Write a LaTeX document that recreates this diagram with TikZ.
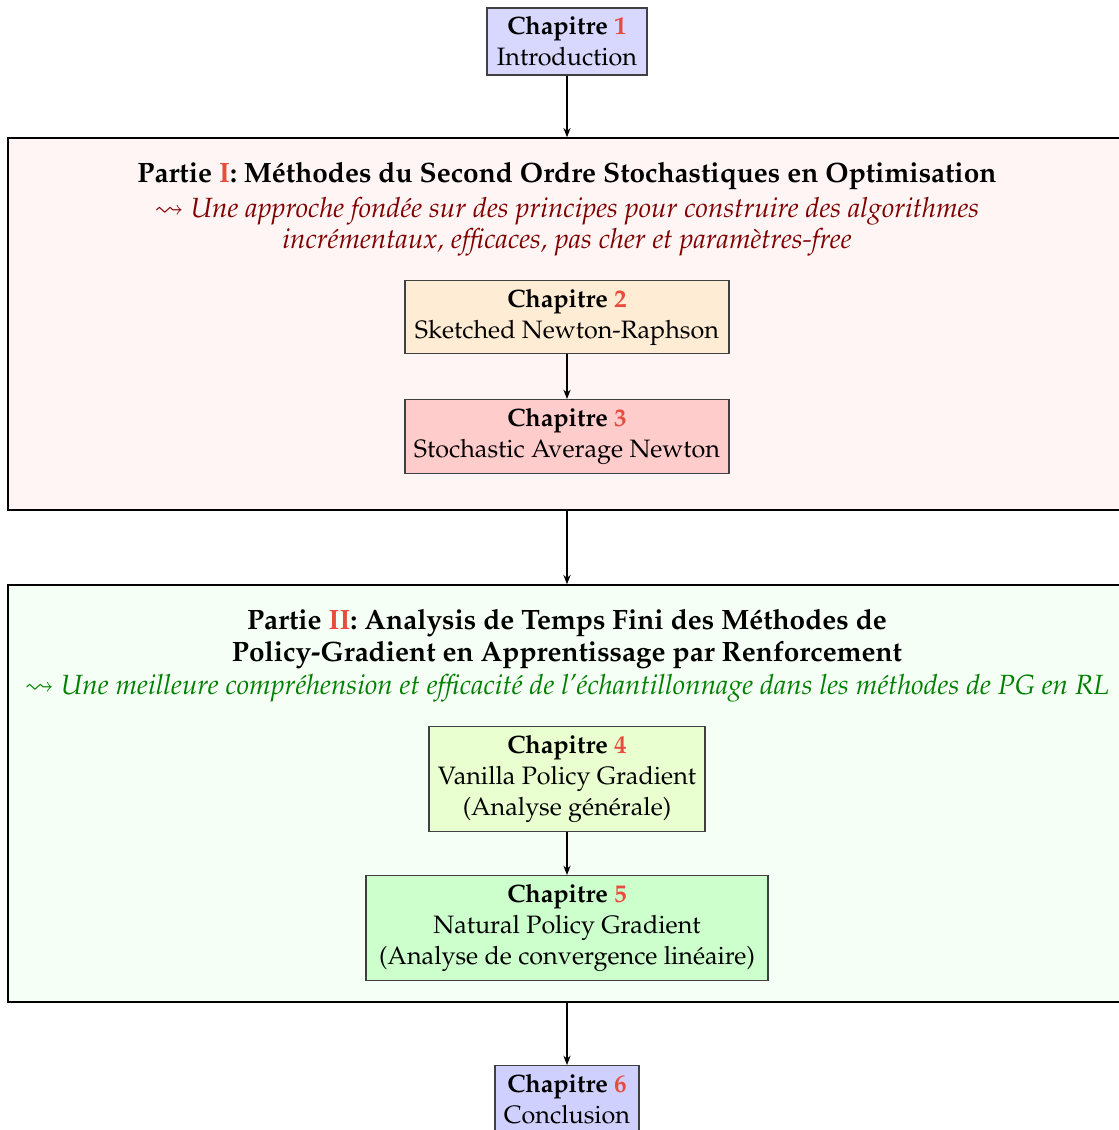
\documentclass[tikz,border=0pt]{standalone}
\usepackage[T1]{fontenc}
\usepackage{mathpazo}
\usepackage{amssymb}
\usetikzlibrary{arrows.meta}
\definecolor{chnum}{RGB}{231,76,60}
\definecolor{pafill}{RGB}{255,245,245}
\definecolor{pbfill}{RGB}{246,255,246}
\definecolor{patext}{RGB}{128,0,0}
\definecolor{pbtext}{RGB}{0,128,0}
\definecolor{cafill}{RGB}{216,216,255}
\definecolor{cbfill}{RGB}{255,236,212}
\definecolor{ccfill}{RGB}{255,204,204}
\definecolor{cdfill}{RGB}{234,255,208}
\definecolor{cefill}{RGB}{204,255,204}
\definecolor{cffill}{RGB}{208,208,255}
\newcommand\pxu{0.3876pt}
\newcommand\chap[2]{{\bfseries Chapitre \textcolor{chnum}{#1}}\\#2}
\begin{document}
\begin{tikzpicture}[x=0.3876pt,y=-0.3876pt,
  chapbox/.style={draw=black!75, line width=0.4pt, align=center, inner sep=0pt, font=\fontsize{9.75}{12}\selectfont},
  partbox/.style={draw=black, line width=0.6pt, inner sep=0pt},
  conn/.style={-{Stealth[length=3.6pt,width=2.8pt]}, line width=0.55pt},
  ptitle/.style={align=center, font=\fontsize{10.85}{12.4}\selectfont\bfseries, inner sep=0pt},
  psub/.style={align=center, font=\fontsize{10.77}{12.1}\selectfont\itshape, inner sep=0pt}]
\useasboundingbox (0,0) rectangle (1119,1130);
\clip (0,0) rectangle (1119,1130);
% parts
\node[partbox, fill=pafill, minimum width=1118*\pxu, minimum height=372*\pxu] (p1) at (567,324) {};
\node[partbox, fill=pbfill, minimum width=1118*\pxu, minimum height=417*\pxu] (p2) at (567,793.5) {};
% part texts
\node[ptitle] (t1) at (567,176) {Partie \textcolor{chnum}{I}: Méthodes du Second Ordre Stochastiques en Optimisation};
\node[psub, text=patext] (s1) at (567,227) {$\rightsquigarrow$ Une approche fondée sur des principes pour construire des algorithmes\\incrémentaux, efficaces, pas cher et paramètres-free};
\node[ptitle] (t2) at (567,639) {Partie \textcolor{chnum}{II}: Analysis de Temps Fini des Méthodes de\\Policy-Gradient en Apprentissage par Renforcement};
\node[psub, text=pbtext] (s2) at (567,688) {$\rightsquigarrow$ Une meilleure compréhension et efficacité de l'échantillonnage dans les méthodes de PG en RL};
% chapters
\node[chapbox, fill=cafill, minimum width=160*\pxu, minimum height=67*\pxu] (c1) at (567,41.5) {\chap{1}{Introduction}};
\node[chapbox, fill=cbfill, minimum width=324*\pxu, minimum height=73*\pxu] (c2) at (567,317) {\chap{2}{Sketched Newton-Raphson}};
\node[chapbox, fill=ccfill, minimum width=324*\pxu, minimum height=74*\pxu] (c3) at (567,436.5) {\chap{3}{Stochastic Average Newton}};
\node[chapbox, fill=cdfill, minimum width=276*\pxu, minimum height=105*\pxu] (c4) at (567,779) {\chap{4}{Vanilla Policy Gradient\\(Analyse générale)}};
\node[chapbox, fill=cefill, minimum width=402*\pxu, minimum height=105*\pxu] (c5) at (567,928) {\chap{5}{Natural Policy Gradient\\(Analyse de convergence linéaire)}};
\node[chapbox, fill=cffill, minimum width=144*\pxu, minimum height=67*\pxu] (c6) at (567,1099) {\chap{6}{Conclusion}};
% connectors
\draw[conn] (c1) -- (p1);
\draw[conn] (c2) -- (c3);
\draw[conn] (p1) -- (p2);
\draw[conn] (c4) -- (c5);
\draw[conn] (p2) -- (c6);
\end{tikzpicture}
\end{document}
